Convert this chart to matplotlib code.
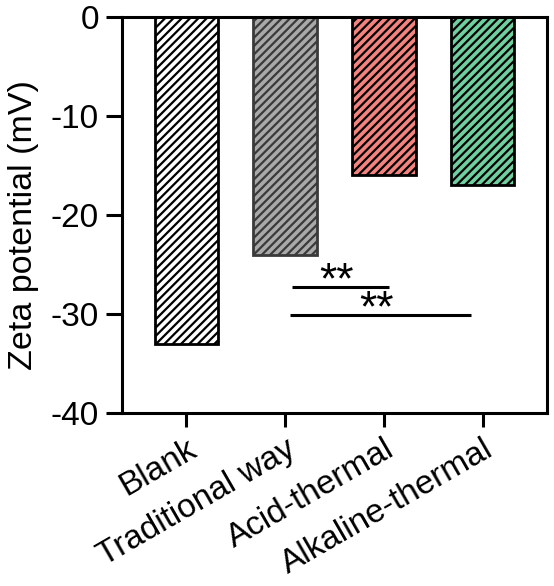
import numpy as np
import matplotlib.pyplot as plt
from matplotlib.transforms import ScaledTranslation

plt.rcParams['font.family'] = ['Liberation Sans', 'DejaVu Sans']
plt.rcParams['hatch.linewidth'] = 1.6

# data
groups = ["Blank", "Traditional way", "Acid-thermal", "Alkaline-thermal"]
zeta = [-33, -24, -16, -17]
fills = ["#ffffff", "#a9a9a9", "#f4837f", "#6fcf9f"]
edges = ["#000000", "#3a3a3a", "#000000", "#000000"]

# significance lines: (x start, x end, y level) in data units + label
sig_lines = [(1.07, 2.05, -27.3), (1.05, 2.88, -30.1)]
sig_text = ["**", "**"]

fig = plt.figure(figsize=(5.54, 5.86), dpi=100)
ax = fig.add_axes([122/554, 1 - 413/586, (547-122)/554, (413-17)/586])

x = np.arange(len(groups))
for i in range(len(groups)):
    ax.bar(x[i], zeta[i], width=0.64, color=fills[i], edgecolor=edges[i],
           hatch="////", linewidth=2.0)

for (xa, xb, y), s in zip(sig_lines, sig_text):
    ax.plot([xa, xb], [y, y], color="black", lw=2.2, solid_capstyle="butt")
    ax.annotate(s, xy=((xa + xb) / 2 - 0.04, y), xytext=(0, -4.5),
                textcoords="offset points", ha="center", va="baseline",
                fontsize=32)

ax.set_xlim(-0.65, 3.65)
ax.set_ylim(-40, 0)
ax.set_yticks([0, -10, -20, -30, -40])
ax.set_yticklabels(["0", "-10", "-20", "-30", "-40"])
ax.set_xticks(x)
ax.set_xticklabels(groups, rotation=30, ha="right", rotation_mode="anchor",
                   fontsize=24)
ax.set_ylabel("Zeta potential (mV)", fontsize=24.5)
ax.yaxis.set_label_coords(-0.195, 0.475)

# nudge rotated labels to the right a bit
shift = ScaledTranslation(12/72, 0, fig.dpi_scale_trans)
for lab in ax.get_xticklabels():
    lab.set_transform(lab.get_transform() + shift)

for sp in ax.spines.values():
    sp.set_linewidth(2.2)
ax.tick_params(axis="both", width=2.2, direction="out")
ax.tick_params(axis="y", length=11.5, pad=5, labelsize=24)
ax.tick_params(axis="x", length=10, pad=5)

fig.savefig("out.png", dpi=100)
